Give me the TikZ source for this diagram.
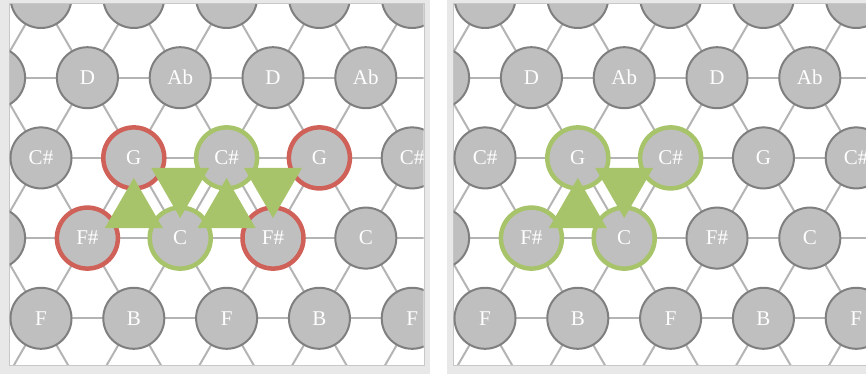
\documentclass[tikz,border=0pt]{standalone}
\usepackage{fontspec}
\setmainfont{Liberation Serif}
\usetikzlibrary{calc}
\definecolor{framegray}{HTML}{E8E8E8}
\definecolor{bordergray}{HTML}{C8C8C8}
\definecolor{linegray}{HTML}{B4B4B4}
\definecolor{nodefill}{HTML}{BFBFBF}
\definecolor{nodedraw}{HTML}{7F7F7F}
\definecolor{ringred}{HTML}{CF6158}
\definecolor{ringgreen}{HTML}{A8C46A}
\pgfdeclarelayer{bgl}
\pgfdeclarelayer{edgel}
\pgfsetlayers{bgl,edgel,main}
\newcommand\chordtri[3]{%
  \fill[ttri] ($0.75*(#1)+0.125*(#2)+0.125*(#3)$) --
              ($0.125*(#1)+0.75*(#2)+0.125*(#3)$) --
              ($0.125*(#1)+0.125*(#2)+0.75*(#3)$) -- cycle;}
\begin{document}
\begin{tikzpicture}[x=1pt,y=-1pt,
  tnote/.style={circle, minimum size=61pt, inner sep=0pt, outer sep=0pt,
    fill=nodefill, draw=nodedraw, line width=2pt, text=white,
    font=\fontsize{21}{24}\selectfont},
  tline/.style={draw=linegray, line width=2pt},
  ttri/.style={fill=ringgreen},
  redring/.style={draw=ringred, line width=4.5pt},
  greenring/.style={draw=ringgreen, line width=4.5pt},
  panelbox/.style={fill=white, draw=bordergray, line width=1pt}]
\useasboundingbox (0,0) rectangle (866,374);
\begin{pgfonlayer}{bgl}
  \fill[white] (0,0) rectangle (866,374);
  \fill[framegray] (0,0) rectangle (430,374);
  \fill[framegray] (447,0) rectangle (866,374);
  \filldraw[panelbox] (9,4) rectangle (424,365);
  \filldraw[panelbox] (453,4) rectangle (868,365);
\end{pgfonlayer}
\foreach \pn/\ox in {L/0,R/444} {
  \begin{scope}[shift={(\ox,0)}]
    \clip (9.5,4.5) rectangle (423.5,364.5);
    \foreach \j/\la/\lb in {0//,1/D/Ab,2/C\#/G,3/F\#/C,4/F/B,5//} {
      \foreach \k in {0,...,6} {
        \pgfmathsetmacro\xx{-51.8+46.4*mod(\j,2)+92.8*\k}
        \pgfmathsetmacro\yy{-2.5+80.2*\j}
        \ifodd\k\relax\def\lab{\la}\else\def\lab{\lb}\fi
        \ifdim\xx pt<20pt \def\lab{}\fi
        \ifdim\xx pt>430pt \def\lab{}\fi
        \node[tnote] (\pn-\j-\k) at (\xx,\yy) {\lab};
      }
    }
  \end{scope}
  \begin{pgfonlayer}{edgel}
    \begin{scope}[shift={(\ox,0)}]
      \clip (9.5,4.5) rectangle (423.5,364.5);
      \foreach \j in {0,...,5} {
        \foreach \k in {0,...,6} {
          \pgfmathtruncatemacro\kn{\k+1}
          \pgfmathtruncatemacro\kp{\k-1}
          \pgfmathtruncatemacro\jn{\j+1}
          \ifnum\k<6 \draw[tline] (\pn-\j-\k) -- (\pn-\j-\kn); \fi
          \ifnum\j<5
            \draw[tline] (\pn-\j-\k) -- (\pn-\jn-\k);
            \ifodd\j\relax
              \ifnum\k<6 \draw[tline] (\pn-\j-\k) -- (\pn-\jn-\kn); \fi
            \else
              \ifnum\k>0 \draw[tline] (\pn-\j-\k) -- (\pn-\jn-\kp); \fi
            \fi
          \fi
        }
      }
    \end{scope}
  \end{pgfonlayer}
}
% left panel highlights
\draw[redring] (L-2-2) circle (30.5pt);
\draw[greenring] (L-2-3) circle (30.5pt);
\draw[redring] (L-2-4) circle (30.5pt);
\draw[redring] (L-3-1) circle (30.5pt);
\draw[greenring] (L-3-2) circle (30.5pt);
\draw[redring] (L-3-3) circle (30.5pt);
\chordtri{L-2-2}{L-3-1}{L-3-2}
\chordtri{L-2-2}{L-2-3}{L-3-2}
\chordtri{L-2-3}{L-3-2}{L-3-3}
\chordtri{L-2-3}{L-2-4}{L-3-3}
% right panel highlights
\draw[greenring] (R-2-2) circle (30.5pt);
\draw[greenring] (R-2-3) circle (30.5pt);
\draw[greenring] (R-3-1) circle (30.5pt);
\draw[greenring] (R-3-2) circle (30.5pt);
\chordtri{R-2-2}{R-3-1}{R-3-2}
\chordtri{R-2-2}{R-2-3}{R-3-2}
\end{tikzpicture}
\end{document}
